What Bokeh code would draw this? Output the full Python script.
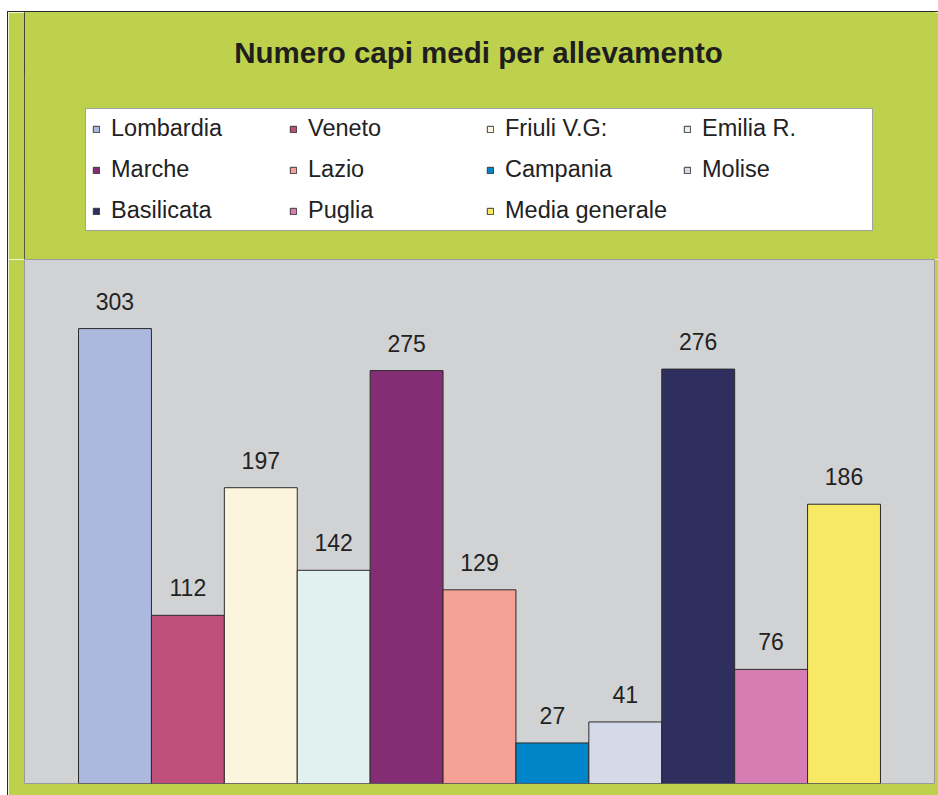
from bokeh.plotting import figure
from bokeh.layouts import column
from bokeh.core.properties import value
from bokeh.models import ColumnDataSource, Legend, LegendItem, Label, LabelSet, Range1d
from bokeh.embed import file_html
from bokeh.resources import INLINE

regions = ["Lombardia", "Veneto", "Friuli V.G:", "Emilia R.", "Marche", "Lazio",
           "Campania", "Molise", "Basilicata", "Puglia", "Media generale"]
values = [303, 112, 197, 142, 275, 129, 27, 41, 276, 76, 186]
colors = ["#ABB9DF", "#BE4F7A", "#FBF5DD", "#E1F1EF", "#842C74", "#F5A196",
          "#0086C8", "#D5DAE8", "#2E2F5E", "#D77DB3", "#F8E964"]
title_text = "Numero capi medi per allevamento"

FONT = "Arial"
GREEN = "#BED14C"
GRAY = "#D1D2D4"

xc = [i + 0.5 for i in range(len(values))]
src = ColumnDataSource(dict(x=xc, top=values, color=colors,
                            label=[str(v) for v in values], name=regions))

# ---- top panel: title + legend (frame aligned with the bars' frame: 16px left, 4px right) ----
TW, TH = 930, 247
top = figure(width=TW, height=TH, output_backend="svg", toolbar_location=None, title=None,
             x_range=Range1d(16, 926), y_range=Range1d(0, TH),
             x_axis_location=None, y_axis_location=None,
             min_border_left=16, min_border_right=4, min_border_top=0, min_border_bottom=0)
top.grid.visible = False
top.background_fill_color = GREEN
top.border_fill_color = GREEN
top.outline_line_color = GREEN
top.outline_line_width = 2
top.extra_x_ranges = {"off": Range1d(1000, 2000)}

dummy = top.vbar(x="x", top="top", bottom=0, width=1.0, fill_color="color",
                 line_color="#3A3A3A", line_width=1, source=src, x_range_name="off")

title = Label(x=470, y=TH - 39.5, text=title_text,
              text_align="center", text_baseline="alphabetic", text_font=FONT,
              text_font_size="29.5px", text_font_style="bold", text_color="#1E1E1E")
top.add_layout(title)

items = [LegendItem(label=regions[i], renderers=[dummy], index=i) for i in range(len(regions))]
legend = Legend(items=items, location=(61, 28), orientation="horizontal", ncols=4,
                glyph_width=8, glyph_height=8, label_standoff=11, label_width=164,
                label_height=26, spacing=14, padding=6, margin=0,
                label_text_font=FONT, label_text_font_size="23.5px", label_text_color="#222222",
                background_fill_color="white", background_fill_alpha=1.0,
                border_line_color="#444444", border_line_width=1)
top.add_layout(legend)

# ---- bottom panel: bars ----
p = figure(width=930, height=536, output_backend="svg", toolbar_location=None, title=None,
           x_range=Range1d(-0.741, 11.741), y_range=Range1d(0, 349),
           x_axis_location=None, y_axis_location=None,
           min_border_left=16, min_border_right=4, min_border_top=0, min_border_bottom=12)
p.grid.visible = False
p.background_fill_color = GRAY
p.border_fill_color = GREEN
p.outline_line_color = "#9A9A9A"
p.outline_line_width = 1

p.vbar(x="x", top="top", bottom=0, width=1.0, fill_color="color",
       line_color="#2A2A2A", line_width=1, source=src)

labels = LabelSet(x="x", y="top", text="label", source=src, y_offset=19,
                  text_align="center", text_baseline="alphabetic",
                  text_font=value(FONT), text_font_size=value("23px"), text_color=value("#222222"))
p.add_layout(labels)

layout = column(top, p, spacing=0, margin=(11, 0, 0, 7),
                styles={"border-left": "1px solid #2A2A2A", "border-top": "1px solid #2A2A2A"})

open("out.html", "w").write(file_html(layout, INLINE))
